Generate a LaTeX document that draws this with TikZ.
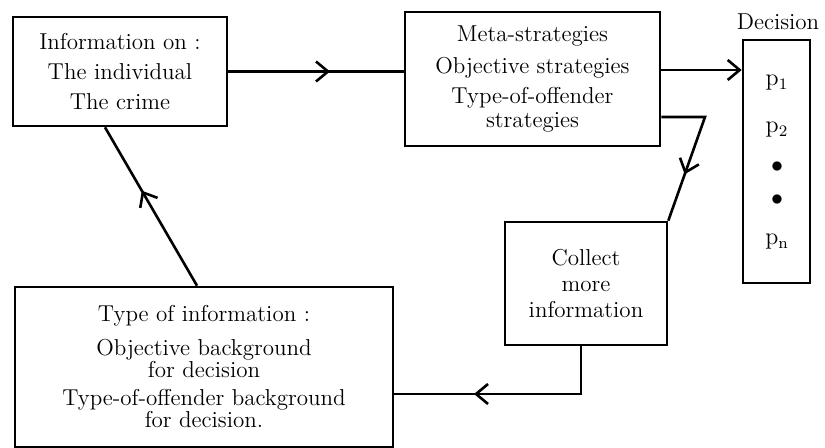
\documentclass[tikz,border=0pt]{standalone}
\usetikzlibrary{arrows.meta,decorations.markings}
\begin{document}
\begin{tikzpicture}[x=0.5pt, y=-0.5pt]

  \tikzset{
    box/.style={
      draw,
      line width=1.3pt,
      align=center,
      inner sep=0pt,
      font=\fontsize{11.5}{14}\selectfont,
    },
    flow/.style={
      line width=1.3pt,
    },
    mid arrow/.style={
      flow,
      postaction={decorate},
      decoration={markings,
        mark=at position #1 with {\arrow{Straight Barb[length=6pt,width=10pt]}}},
    },
  }

  \useasboundingbox (0,0) rectangle (825,448);

  \node[box, minimum width=107pt, minimum height=54.5pt] (info) at (120,71.5)
    {Information on :\\[1pt] The individual\\[1pt] The crime};
  \node[box, minimum width=127.5pt, minimum height=67pt] (strat) at (532.5,79)
    {Meta-strategies\\[2pt] Objective strategies\\[1pt] Type-of-offender\\[-2pt] strategies};
  \node[box, minimum width=33.5pt, minimum height=121.5pt] (dec) at (776.5,161.5) {};
  \node[font=\fontsize{11.5}{14}\selectfont] (declabel) at (778,22) {Decision};
  \node[box, minimum width=81pt, minimum height=61.5pt] (collect) at (586,283.5)
    {Collect\\[-1pt] more\\[-1pt] information};
  \node[box, minimum width=189pt, minimum height=80pt] (type) at (204,367)
    {Type of information :\\[3pt] Objective background\\[-3pt] for decision\\[0pt]
     Type-of-offender background\\[-3pt] for decision.};

  % decision alternatives
  \foreach \y/\t [count=\i] in {83/$\mathrm{p}_1$, 130/$\mathrm{p}_2$, 167/$\bullet$, 200/$\bullet$, 242/$\mathrm{p}_\mathrm{n}$} {
    \node[font=\fontsize{11.5}{14}\selectfont] (alt-\i) at (777,\y) {\t};
  }

  \coordinate (bend) at (705,117);

  \draw[mid arrow=0.58] (info.east) -- (info.east -| strat.west);
  \draw[flow, -{Straight Barb[length=6pt,width=10pt]}] (strat.east |- 0,70) -- (dec.west |- 0,70);
  \draw[mid arrow=0.68] (strat.east |- bend) -- (bend) -- (collect.north east);
  \draw[mid arrow=0.66] ([xshift=-2.5pt]collect.south) |- ([yshift=-13.5pt]type.east);
  \draw[mid arrow=0.6] ([xshift=-3.5pt]type.north) -- ([xshift=-7.5pt]info.south);

\end{tikzpicture}
\end{document}
